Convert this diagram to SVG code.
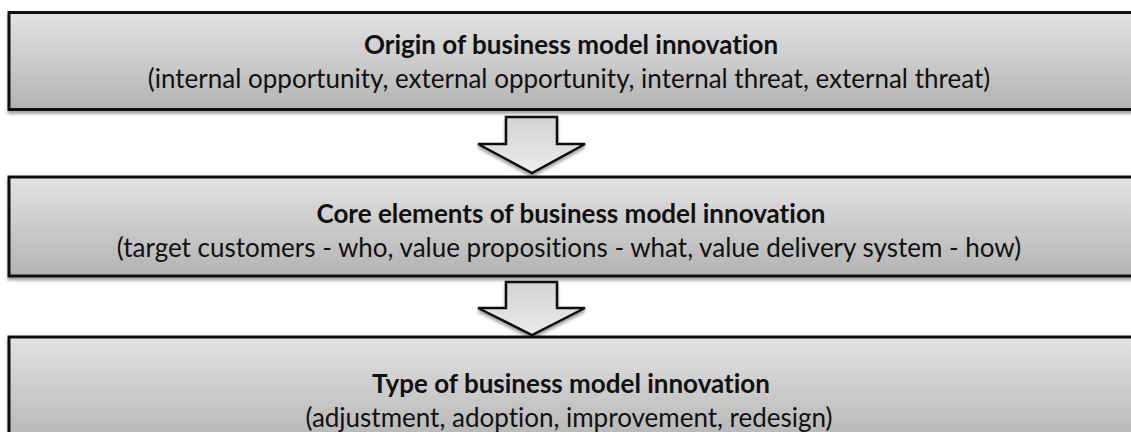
<svg xmlns="http://www.w3.org/2000/svg" width="1131" height="432" viewBox="0 0 1131 432">
<defs>
<linearGradient id="g" x1="0" y1="0" x2="0" y2="1">
<stop offset="0" stop-color="#e3e3e3"/>
<stop offset="1" stop-color="#b3b3b3"/>
</linearGradient>
<linearGradient id="ga" x1="0" y1="0" x2="0" y2="1">
<stop offset="0" stop-color="#d2d2d2"/>
<stop offset="1" stop-color="#ececec"/>
</linearGradient>
<filter id="sh" x="-5%" y="-10%" width="110%" height="130%">
<feDropShadow dx="0" dy="3" stdDeviation="1.5" flood-color="#000" flood-opacity="0.35"/>
</filter>
</defs>
<style>
.box{fill:url(#g);stroke:#111;stroke-width:3;filter:url(#sh)}
.arr{fill:url(#ga);stroke:#111;stroke-width:2.5;stroke-linejoin:miter;filter:url(#sh)}
.t{font-family:Lato,"Open Sans",sans-serif;font-size:26px;fill:#111;text-anchor:middle;font-variant-ligatures:none;font-feature-settings:"liga" 0}
.b{font-weight:bold}
</style>
<rect width="1131" height="432" fill="#fff"/>
<g id="connectors">
<path class="arr" d="M506,117 H557 V144 H585 L532,173 L478,144 H506 Z"/>
<path class="arr" d="M506,282 H557 V308 H585 L532,335 L478,308 H506 Z"/>
</g>
<g id="node1">
<rect class="box" x="9" y="12.5" width="1135" height="97"/>
<text class="t b" x="571" y="54">Origin of business model innovation</text>
<text class="t" x="569" y="88">(internal opportunity, external opportunity, internal threat, external threat)</text>
</g>
<g id="node2">
<rect class="box" x="9" y="177" width="1135" height="99"/>
<text class="t b" x="571" y="223">Core elements of business model innovation</text>
<text class="t" x="569" y="257">(target customers - who, value propositions - what, value delivery system - how)</text>
</g>
<g id="node3">
<rect class="box" x="9" y="337" width="1135" height="110"/>
<text class="t b" x="571" y="393">Type of business model innovation</text>
<text class="t" x="569" y="427">(adjustment, adoption, improvement, redesign)</text>
</g>
</svg>
